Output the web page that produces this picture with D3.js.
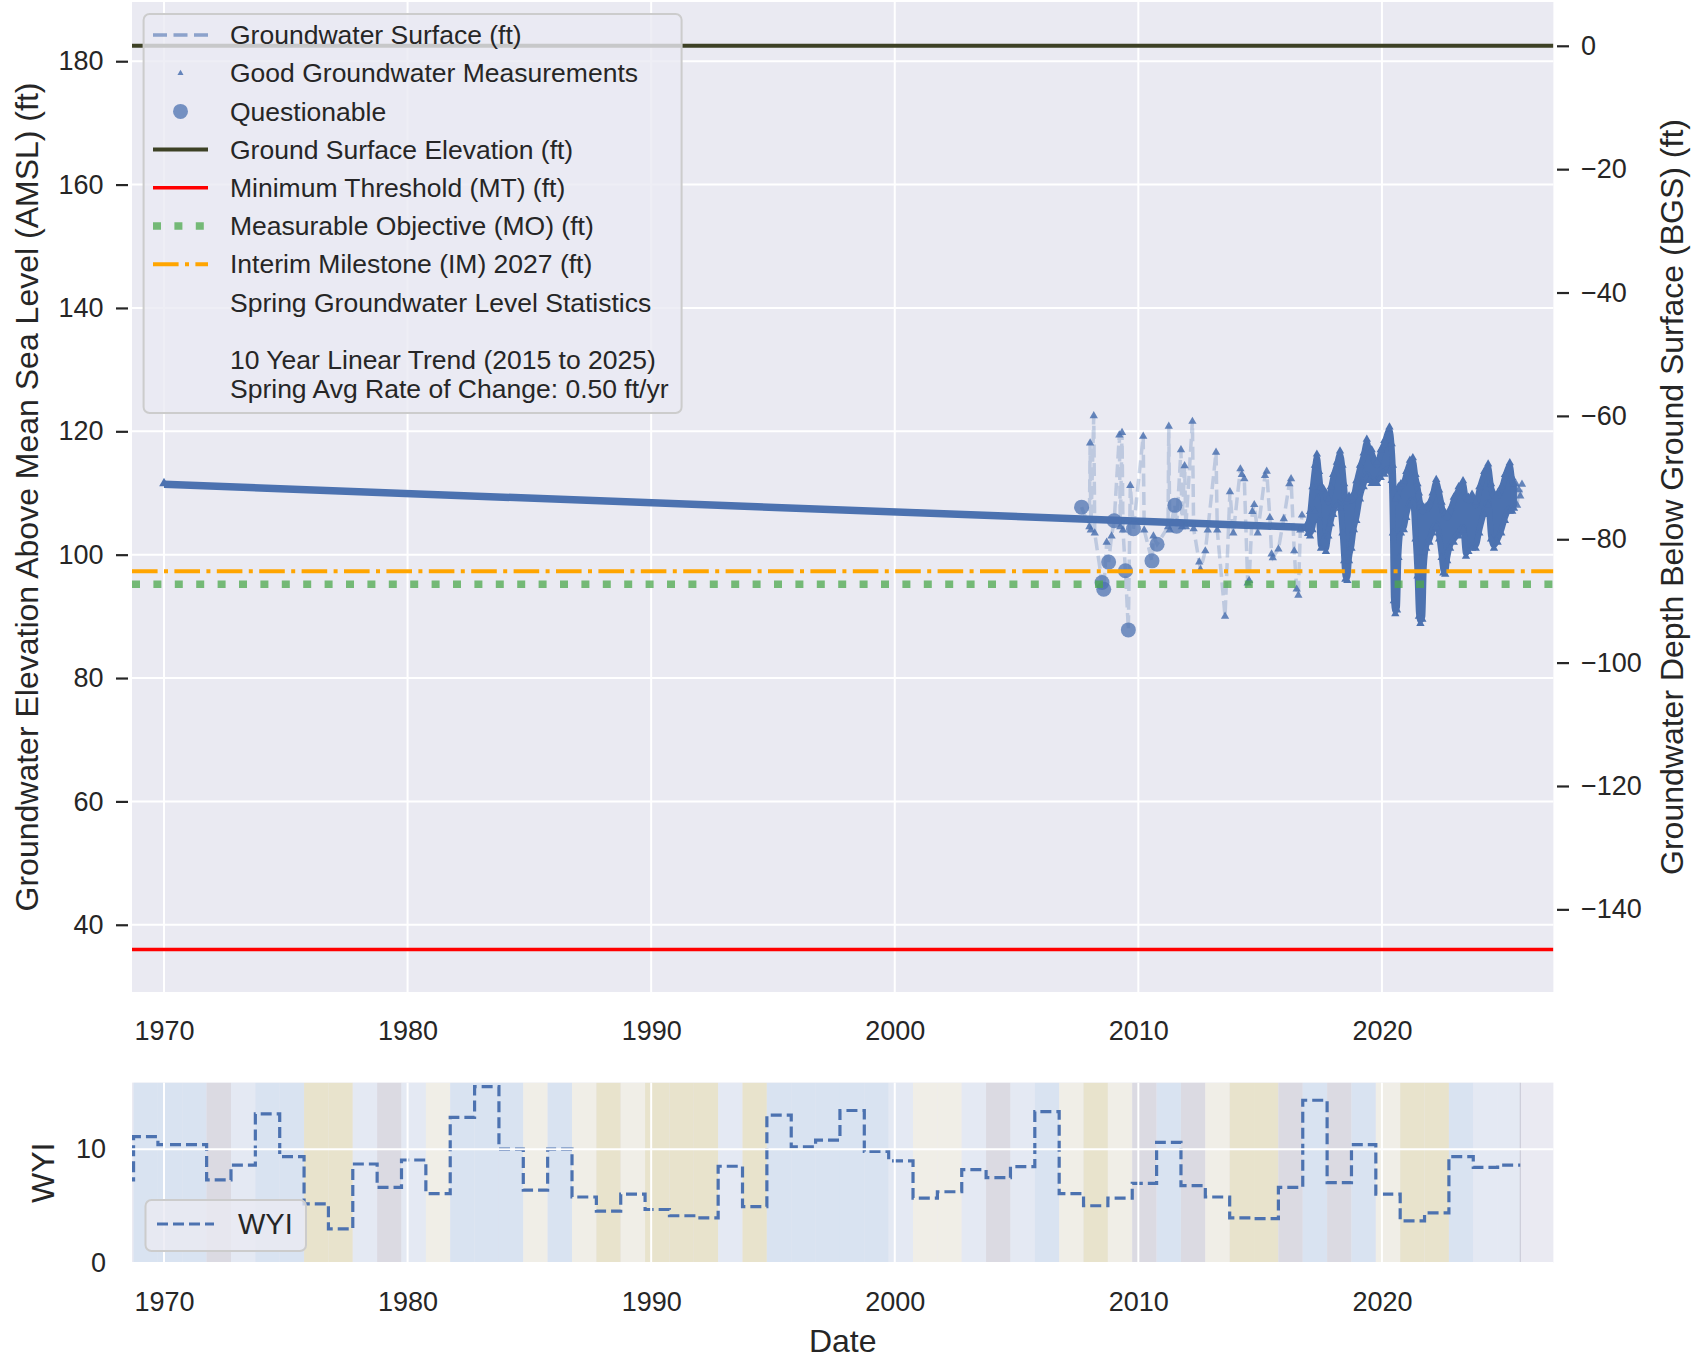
<!DOCTYPE html>
<html>
<head>
<meta charset="utf-8">
<script src="https://cdn.jsdelivr.net/npm/d3@7"></script>
<style>
  body { margin: 0; background: #fff; }
  text { font-family: "Liberation Sans", Arial, sans-serif; fill: #262626; }
</style>
</head>
<body>
<svg id="chart" width="1701" height="1357"></svg>
<script>
// ---- data ----
const GSE = 182.5;          // ground surface elevation (ft)
const MT = 36.0;            // minimum threshold
const MO = 95.2;            // measurable objective
const IM = 97.3;            // interim milestone 2027

// long interpolated record 1970 -> start of continuous logger
const trendDates  = [1970.0, 2016.97];
const trendValues = [111.4, 104.4];

// sparse manual measurements (g = good, q = questionable)
const measDates = [2007.67, 2007.99, 2008.02, 2008.05, 2008.17, 2008.21, 2008.51, 2008.58, 2008.70, 2008.78,
  2008.90, 2009.01, 2009.22, 2009.26, 2009.33, 2009.37, 2009.47, 2009.59, 2009.67, 2009.80,
  2010.20, 2010.24, 2010.56, 2010.62, 2010.77, 2011.22, 2011.25, 2011.29, 2011.50, 2011.57,
  2011.75, 2011.79, 2011.90, 2011.95, 2012.22, 2012.27, 2012.50, 2012.55, 2012.75, 2012.85,
  2013.19, 2013.24, 2013.56, 2013.76, 2013.90, 2014.19, 2014.25, 2014.35, 2014.49, 2014.55,
  2014.68, 2014.76, 2014.90, 2015.20, 2015.27, 2015.40, 2015.47, 2015.52, 2015.75, 2015.97,
  2016.20, 2016.27, 2016.40, 2016.50, 2016.57, 2016.65, 2016.72,
  2025.50, 2025.55, 2025.62, 2025.68, 2025.75];
const measValues = [107.7, 104.5, 118.1, 104.0, 122.5, 103.5, 95.5, 94.4, 102.0, 98.8,
  103.0, 105.5, 119.4, 104.5, 119.8, 104.0, 97.4, 87.8, 111.2, 104.2,
  119.2, 104.0, 99.0, 103.0, 101.7, 104.5, 120.8, 104.0, 108.0, 104.6,
  117.0, 104.5, 114.4, 104.5, 121.6, 104.2, 98.8, 97.6, 100.6, 104.0,
  116.6, 104.0, 90.0, 110.2, 103.5, 113.9, 113.0, 112.3, 95.4, 95.8,
  107.0, 108.1, 103.5, 112.8, 113.5, 106.0, 100.1, 99.5, 100.9, 105.8,
  111.5, 112.3, 100.6, 94.4, 93.4, 104.0, 106.4,
  111.5, 108.0, 110.5, 109.5, 111.4];
const measFlags = ["q","g","g","g","g","g","q","q","g","q",
  "g","q","g","g","g","g","q","q","g","q",
  "g","g","q","g","q","g","g","g","q","q",
  "g","g","g","g","g","g","g","g","g","g",
  "g","g","g","g","g","g","g","g","g","g",
  "g","g","g","g","g","g","g","g","g","g",
  "g","g","g","g","g","g","g",
  "g","g","g","g","g"];

// continuous logger record 2017-2025: daily high / low envelope
const loggerDates = [2016.97, 2017.05, 2017.15, 2017.25, 2017.33, 2017.42, 2017.50, 2017.60, 2017.70, 2017.80,
  2017.90, 2018.00, 2018.15, 2018.28, 2018.38, 2018.45, 2018.50, 2018.58, 2018.65, 2018.75,
  2018.85, 2018.95, 2019.10, 2019.25, 2019.38, 2019.48, 2019.58, 2019.70, 2019.80, 2019.95,
  2020.10, 2020.31, 2020.40, 2020.45, 2020.49, 2020.55, 2020.62, 2020.68, 2020.78, 2020.90,
  2021.00, 2021.15, 2021.27, 2021.38, 2021.46, 2021.52, 2021.58, 2021.66, 2021.72, 2021.82,
  2021.95, 2022.08, 2022.23, 2022.35, 2022.45, 2022.52, 2022.60, 2022.68, 2022.80, 2022.95,
  2023.15, 2023.33, 2023.45, 2023.55, 2023.70, 2023.85, 2024.00, 2024.20, 2024.36, 2024.48,
  2024.60, 2024.75, 2024.90, 2025.05, 2025.25, 2025.35, 2025.42];
const loggerHigh = [104.8, 106.5, 110.5, 114.0, 115.8, 113.0, 110.5, 110.2, 109.5, 108.5,
  110.5, 112.5, 114.5, 116.3, 114.0, 111.0, 109.0, 108.5, 109.0, 108.8,
  109.5, 111.5, 114.0, 116.0, 118.2, 116.8, 116.5, 115.0, 114.5, 116.5,
  118.0, 120.2, 117.5, 114.0, 110.0, 108.5, 109.0, 110.5, 111.0, 111.5,
  113.0, 114.8, 115.2, 112.5, 111.0, 109.5, 108.0, 107.0, 107.2, 107.3,
  108.0, 109.5, 111.7, 110.0, 108.0, 106.5, 106.3, 106.0, 107.0, 108.8,
  110.5, 111.5, 109.0, 108.8, 109.3, 108.0, 110.5, 113.0, 114.2, 111.0,
  109.5, 109.5, 110.5, 112.5, 114.4, 112.0, 111.0];
const loggerLow = [103.9, 103.5, 104.5, 107.5, 109.5, 106.0, 101.5, 103.0, 101.0, 103.5,
  105.5, 107.0, 108.5, 108.0, 104.0, 99.5, 96.5, 96.3, 99.5, 101.5,
  104.5, 106.0, 109.5, 111.5, 113.0, 112.5, 112.0, 112.3, 112.0, 113.0,
  113.5, 114.0, 112.5, 104.0, 93.0, 90.9, 91.5, 100.0, 104.0, 104.5,
  106.5, 108.5, 109.0, 103.0, 97.0, 90.5, 89.3, 90.0, 98.0, 101.5,
  102.5, 104.0, 105.0, 103.0, 100.0, 97.5, 97.3, 99.5, 101.5, 102.5,
  103.5, 104.5, 100.2, 101.0, 101.5, 101.5, 104.0, 107.0, 108.5, 103.0,
  101.5, 102.5, 104.0, 106.0, 107.5, 107.5, 108.0];

// water year index (Sacramento Valley) and year types
const wyYears = [1968, 1969, 1970, 1971, 1972, 1973, 1974, 1975, 1976, 1977, 1978, 1979, 1980, 1981, 1982,
  1983, 1984, 1985, 1986, 1987, 1988, 1989, 1990, 1991, 1992, 1993, 1994, 1995, 1996, 1997,
  1998, 1999, 2000, 2001, 2002, 2003, 2004, 2005, 2006, 2007, 2008, 2009, 2010, 2011, 2012,
  2013, 2014, 2015, 2016, 2017, 2018, 2019, 2020, 2021, 2022, 2023, 2024, 2025];
const wyiValues = [7.3, 11.1, 10.4, 10.4, 7.3, 8.6, 13.1, 9.35, 5.2, 3.0, 8.7, 6.65, 9.05, 6.1, 12.8,
  15.5, 10.0, 6.4, 10.0, 5.8, 4.55, 6.05, 4.7, 4.15, 3.97, 8.5, 4.95, 13.0, 10.2, 10.8,
  13.4, 9.8, 8.97, 5.7, 6.26, 8.2, 7.5, 8.47, 13.3, 6.1, 5.03, 5.7, 7.0, 10.6, 6.8,
  5.8, 3.97, 3.9, 6.65, 14.3, 7.06, 10.4, 6.05, 3.7, 4.4, 9.35, 8.4, 8.6];
const typeYears = [1969, 1970, 1971, 1972, 1973, 1974, 1975, 1976, 1977, 1978, 1979, 1980, 1981, 1982,
  1983, 1984, 1985, 1986, 1987, 1988, 1989, 1990, 1991, 1992, 1993, 1994, 1995, 1996, 1997,
  1998, 1999, 2000, 2001, 2002, 2003, 2004, 2005, 2006, 2007, 2008, 2009, 2010, 2011, 2012,
  2013, 2014, 2015, 2016, 2017, 2018, 2019, 2020, 2021, 2022, 2023, 2024, 2025];
const yearTypes = ["W","W","W","BN","AN","W","W","C","C","AN","BN","AN","D","W",
  "W","W","D","W","D","C","D","C","C","C","AN","C","W","W","W",
  "W","W","AN","D","D","AN","BN","AN","W","D","C","D","BN","W","BN",
  "D","C","C","BN","W","BN","W","D","C","C","W","AN","AN"];
const dataEnd = 2025.68;

const xTicks = [1970, 1980, 1990, 2000, 2010, 2020];
const yTicks = [40, 60, 80, 100, 120, 140, 160, 180];
const depthTicks = [0, -20, -40, -60, -80, -100, -120, -140];
const wyiTicks = [0, 10];

const legendLabels = ["Groundwater Surface (ft)", "Good Groundwater Measurements", "Questionable",
  "Ground Surface Elevation (ft)", "Minimum Threshold (MT) (ft)", "Measurable Objective (MO) (ft)",
  "Interim Milestone (IM) 2027 (ft)", "Spring Groundwater Level Statistics"];
const statsLines = ["10 Year Linear Trend (2015 to 2025)", "Spring Avg Rate of Change: 0.50 ft/yr"];

// ---- layout ----
const BLUE = "#4c72b0";
const BG = "#eaeaf2";
const typeColor = { W: "#d9e3f1", AN: "#e4e9f3", BN: "#dbdae2", D: "#f0eee7", C: "#e8e3cc" };
const FONT = "Liberation Sans, Arial, sans-serif";

const svg = d3.select("#chart");
const main = { left: 132, right: 1553.4, top: 2, bottom: 992 };
const low = { left: 132, right: 1553.4, top: 1082.6, bottom: 1263 };

const x = d3.scaleLinear().domain([1968.686, 2027.04]).range([main.left, main.right]);
const y = d3.scaleLinear().domain([29.1, 189.6]).range([main.bottom, main.top]);
const yDepth = d3.scaleLinear().domain([29.1 - GSE, 189.6 - GSE]).range([main.bottom, main.top]);
const yW = d3.scaleLinear().domain([0, 15.85]).range([low.bottom, low.top]);

const defs = svg.append("defs");
defs.append("clipPath").attr("id", "clipMain").append("rect")
  .attr("x", main.left).attr("y", main.top)
  .attr("width", main.right - main.left).attr("height", main.bottom - main.top);
defs.append("clipPath").attr("id", "clipLow").append("rect")
  .attr("x", low.left).attr("y", low.top)
  .attr("width", low.right - low.left).attr("height", low.bottom - low.top);

// ================= main panel =================
svg.append("rect").attr("x", main.left).attr("y", main.top)
  .attr("width", main.right - main.left).attr("height", main.bottom - main.top).attr("fill", BG);

const grid = svg.append("g").attr("stroke", "#fff").attr("stroke-width", 2);
grid.selectAll(".gx").data(xTicks).enter().append("line")
  .attr("x1", d => x(d)).attr("x2", d => x(d)).attr("y1", main.top).attr("y2", main.bottom);
grid.selectAll(".gy").data(yTicks).enter().append("line")
  .attr("x1", main.left).attr("x2", main.right).attr("y1", d => y(d)).attr("y2", d => y(d));

const plot = svg.append("g").attr("clip-path", "url(#clipMain)");

// long interpolated record
const trendPts = trendDates.map((t, i) => [t, trendValues[i]]);
plot.append("path").datum(trendPts)
  .attr("d", d3.line().x(d => x(d[0])).y(d => y(d[1])))
  .attr("fill", "none").attr("stroke", BLUE).attr("stroke-width", 7.5);
plot.append("path")
  .attr("d", d3.symbol(d3.symbolTriangle, 40)())
  .attr("transform", `translate(${x(trendDates[0])},${y(trendValues[0]) - 1})`)
  .attr("fill", BLUE);

// sparse measurements joined by the dashed surface line
const meas = measDates.map((t, i) => ({ t, v: measValues[i], f: measFlags[i] }));
const segments = [];
meas.forEach((m, i) => {
  if (i === 0 || m.t - meas[i - 1].t > 1) segments.push([]);
  segments[segments.length - 1].push(m);
});
plot.selectAll(".seg").data(segments).enter().append("path")
  .attr("d", d3.line().x(d => x(d.t)).y(d => y(d.v)))
  .attr("fill", "none").attr("stroke", BLUE).attr("stroke-opacity", 0.28)
  .attr("stroke-width", 3.5).attr("stroke-dasharray", "13,5.6");

// continuous logger record
const logger = loggerDates.map((t, i) => ({ t, hi: loggerHigh[i], lo: loggerLow[i] }));
plot.append("path").datum(logger)
  .attr("d", d3.area().x(d => x(d.t)).y0(d => y(d.lo)).y1(d => y(d.hi)).curve(d3.curveMonotoneX))
  .attr("fill", BLUE).attr("stroke", BLUE).attr("stroke-width", 6).attr("stroke-linejoin", "round");
const tri = d3.symbol(d3.symbolTriangle, 30)();
plot.selectAll(".lhi").data(logger).enter().append("path")
  .attr("d", tri).attr("fill", BLUE)
  .attr("transform", d => `translate(${x(d.t)},${y(d.hi) - 3})`);
plot.selectAll(".llo").data(logger).enter().append("path")
  .attr("d", tri).attr("fill", BLUE)
  .attr("transform", d => `translate(${x(d.t)},${y(d.lo) + 3})`);

// markers
plot.selectAll(".good").data(meas.filter(d => d.f === "g")).enter().append("path")
  .attr("d", tri).attr("fill", BLUE).attr("fill-opacity", 0.85)
  .attr("transform", d => `translate(${x(d.t)},${y(d.v)})`);
plot.selectAll(".quest").data(meas.filter(d => d.f === "q")).enter().append("circle")
  .attr("cx", d => x(d.t)).attr("cy", d => y(d.v)).attr("r", 7.5)
  .attr("fill", BLUE).attr("fill-opacity", 0.75);

// reference levels
const refLines = [
  { v: GSE, color: "#3d4125", w: 4, dash: null, op: 1 },
  { v: MT, color: "#ff0000", w: 3.5, dash: null, op: 1 },
  { v: MO, color: "#4ca84c", w: 7.5, dash: "8,13.4", op: 0.75 },
  { v: IM, color: "#ffa500", w: 4, dash: "25.6,6.4,4,6.4", op: 1 }
];
plot.selectAll(".ref").data(refLines).enter().append("line")
  .attr("x1", main.left).attr("x2", main.right)
  .attr("y1", d => y(d.v)).attr("y2", d => y(d.v))
  .attr("stroke", d => d.color).attr("stroke-width", d => d.w)
  .attr("stroke-opacity", d => d.op)
  .attr("stroke-dasharray", d => d.dash);

// axes
function styleAxis(g, size) {
  g.attr("font-family", FONT).attr("font-size", size).attr("color", "#262626");
  g.select(".domain").remove();
  g.selectAll(".tick line").attr("stroke-width", 2.2);
  g.selectAll("text").attr("fill", "#262626");
}
svg.append("g").attr("transform", `translate(128,0)`)
  .call(d3.axisLeft(y).tickValues(yTicks).tickSize(12).tickPadding(12.5))
  .call(g => styleAxis(g, 27));
svg.append("g").attr("transform", `translate(1557,0)`)
  .call(d3.axisRight(yDepth).tickValues(depthTicks).tickSize(12).tickPadding(12))
  .call(g => styleAxis(g, 27));
svg.append("g").attr("transform", `translate(0,${main.bottom})`)
  .call(d3.axisBottom(x).tickValues(xTicks).tickFormat(d3.format("d")).tickSize(0).tickPadding(29))
  .call(g => styleAxis(g, 27));

svg.append("text").attr("transform", `translate(38,${(main.top + main.bottom) / 2}) rotate(-90)`)
  .attr("text-anchor", "middle").attr("font-size", 32)
  .text("Groundwater Elevation Above Mean Sea Level (AMSL) (ft)");
svg.append("text").attr("transform", `translate(1683,${(main.top + main.bottom) / 2}) rotate(-90)`)
  .attr("text-anchor", "middle").attr("font-size", 32)
  .text("Groundwater Depth Below Ground Surface (BGS) (ft)");

// legend
const lg = svg.append("g");
lg.append("rect").attr("x", 143.6).attr("y", 14).attr("width", 538).attr("height", 399).attr("rx", 6)
  .attr("fill", BG).attr("fill-opacity", 0.8).attr("stroke", "#cccccc").attr("stroke-width", 2);
const rowY = i => 35 + i * 38.2;
const hx0 = 153, hx1 = 208, hxc = 180.5, tx = 230;
lg.selectAll(".lt").data(legendLabels).enter().append("text")
  .attr("x", tx).attr("y", (d, i) => rowY(i)).attr("dy", "0.35em").attr("font-size", 26.5).text(d => d);
lg.selectAll(".st").data(statsLines).enter().append("text")
  .attr("x", tx).attr("y", (d, i) => 360 + i * 28.3).attr("dy", "0.35em").attr("font-size", 26.5).text(d => d);
lg.append("line").attr("x1", hx0).attr("x2", hx1).attr("y1", rowY(0)).attr("y2", rowY(0))
  .attr("stroke", BLUE).attr("stroke-opacity", 0.6).attr("stroke-width", 3.5).attr("stroke-dasharray", "14,6.5");
lg.append("path").attr("d", d3.symbol(d3.symbolTriangle, 16)())
  .attr("transform", `translate(${hxc},${rowY(1)})`).attr("fill", BLUE).attr("fill-opacity", 0.85);
lg.append("circle").attr("cx", hxc).attr("cy", rowY(2)).attr("r", 7.5).attr("fill", BLUE).attr("fill-opacity", 0.75);
refLines.forEach((r, i) => {
  lg.append("line").attr("x1", hx0).attr("x2", hx1).attr("y1", rowY(3 + i)).attr("y2", rowY(3 + i))
    .attr("stroke", r.color).attr("stroke-width", r.w).attr("stroke-opacity", r.op)
    .attr("stroke-dasharray", r.dash);
});

// ================= WYI panel =================
svg.append("rect").attr("x", low.left).attr("y", low.top)
  .attr("width", low.right - low.left).attr("height", low.bottom - low.top).attr("fill", BG);

const lowPlot = svg.append("g").attr("clip-path", "url(#clipLow)");
const bands = typeYears.map((yr, i) => ({ start: yr - 0.25, end: Math.min(yr + 0.75, dataEnd), type: yearTypes[i] }));
lowPlot.selectAll(".band").data(bands).enter().append("rect")
  .attr("x", d => x(d.start)).attr("width", d => x(d.end) - x(d.start))
  .attr("y", low.top).attr("height", low.bottom - low.top)
  .attr("fill", d => typeColor[d.type]);
lowPlot.append("line").attr("x1", x(dataEnd)).attr("x2", x(dataEnd))
  .attr("y1", low.top).attr("y2", low.bottom).attr("stroke", "#c8c8d4").attr("stroke-width", 1);

const lgrid = svg.append("g").attr("stroke", "#fff").attr("stroke-width", 2);
lgrid.selectAll(".gx").data(xTicks).enter().append("line")
  .attr("x1", d => x(d)).attr("x2", d => x(d)).attr("y1", low.top).attr("y2", low.bottom);
lgrid.selectAll(".gy").data(wyiTicks).enter().append("line")
  .attr("x1", low.left).attr("x2", low.right).attr("y1", d => yW(d)).attr("y2", d => yW(d));

const wyiPts = wyYears.map((yr, i) => [yr - 0.25, wyiValues[i]]);
wyiPts.push([dataEnd, wyiValues[wyiValues.length - 1]]);
lowPlot.append("path").datum(wyiPts)
  .attr("d", d3.line().x(d => x(d[0])).y(d => yW(d[1])).curve(d3.curveStepAfter))
  .attr("fill", "none").attr("stroke", BLUE).attr("stroke-width", 3.2).attr("stroke-dasharray", "11,5");

svg.append("g").attr("transform", `translate(${low.left},0)`)
  .call(d3.axisLeft(yW).tickValues(wyiTicks).tickSize(0).tickPadding(26))
  .call(g => styleAxis(g, 27));
svg.append("g").attr("transform", `translate(0,${low.bottom})`)
  .call(d3.axisBottom(x).tickValues(xTicks).tickFormat(d3.format("d")).tickSize(0).tickPadding(29.3))
  .call(g => styleAxis(g, 27));

svg.append("text").attr("transform", `translate(54,${(low.top + low.bottom) / 2}) rotate(-90)`)
  .attr("text-anchor", "middle").attr("font-size", 32).text("WYI");
svg.append("text").attr("x", (low.left + low.right) / 2).attr("y", 1351.5)
  .attr("text-anchor", "middle").attr("font-size", 32).text("Date");

// WYI legend
const wl = svg.append("g");
wl.append("rect").attr("x", 145.5).attr("y", 1200).attr("width", 160.5).attr("height", 51).attr("rx", 6)
  .attr("fill", BG).attr("fill-opacity", 0.8).attr("stroke", "#cccccc").attr("stroke-width", 2);
wl.append("line").attr("x1", 157).attr("x2", 214).attr("y1", 1224).attr("y2", 1224)
  .attr("stroke", BLUE).attr("stroke-width", 3.2).attr("stroke-dasharray", "11,5");
wl.append("text").attr("x", 238).attr("y", 1224).attr("dy", "0.35em").attr("font-size", 29).text("WYI");
</script>
</body>
</html>
